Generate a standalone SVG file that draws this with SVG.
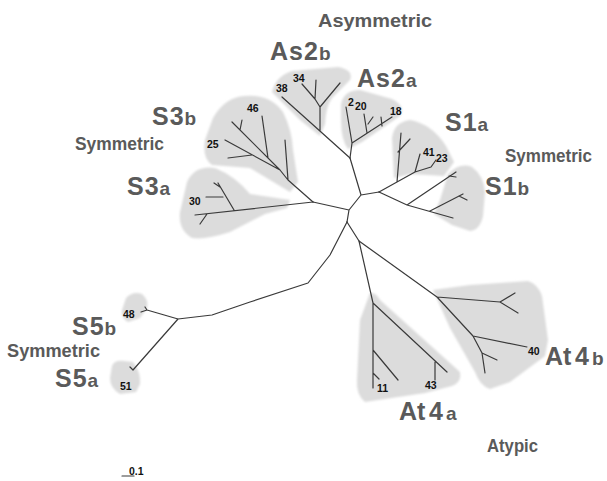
<svg xmlns="http://www.w3.org/2000/svg" width="607" height="481" viewBox="0 0 607 481">
<defs>
<filter id="soft" x="-10%" y="-10%" width="120%" height="120%"><feGaussianBlur stdDeviation="1.2"/></filter>
</defs>
<style>
.hull{fill:#dcdcdc;stroke:none;filter:url(#soft)}
.br{fill:none;stroke:#3a3a3a;stroke-width:1.2;stroke-linecap:round;stroke-linejoin:round}
.big{font-family:"Liberation Sans",Arial,sans-serif;font-weight:bold;fill:#5a5a5a;font-size:25px;letter-spacing:1px}
.tight{letter-spacing:0}
.sub{font-size:19px}
.cat{font-family:"Liberation Sans",Arial,sans-serif;font-weight:bold;fill:#5a5a5a;font-size:19px}
.num{font-family:"Liberation Sans",Arial,sans-serif;font-weight:bold;fill:#111;font-size:10.5px}
</style>
<rect width="607" height="481" fill="#fff"/>

<g id="hulls">
<path id="hull-As2b" class="hull" d="M272,92 Q276,76 292,71 L338,67 Q354,70 350,80 L332,98 Q326,106 325,124 L320,136 L300,120 Z"/>
<path id="hull-As2a" class="hull" d="M341,104 Q344,90 360,90 L392,99 Q406,106 400,116 L362,142 L348,149 Q341,140 341,120 Z"/>
<path id="hull-S3b" class="hull" d="M213,118 Q225,97 245,96 Q270,94 283,112 Q292,130 293,150 L298,182 L290,192 L250,168 L212,165 Q202,158 205,140 Z"/>
<path id="hull-S3a" class="hull" d="M187,182 Q195,165 215,168 Q235,176 250,194 L290,200 L287,208 L265,214 L230,232 Q205,240 192,238 Q178,230 180,212 Z"/>
<path id="hull-S1a" class="hull" d="M392,138 Q394,122 410,120 Q432,124 446,146 L454,162 L444,176 L410,174 L394,178 Z"/>
<path id="hull-S1b" class="hull" d="M448,174 Q460,162 472,167 Q484,176 485,192 L483,216 Q480,230 470,231 L452,225 L434,214 L440,200 Z"/>
<path id="hull-At4b" class="hull" d="M433,290 L470,285 L528,281 Q538,284 542,296 L548,340 L545,356 L510,382 L490,389 Q480,386 475,372 L450,328 Z"/>
<path id="hull-At4a" class="hull" d="M370,293 Q376,292 380,300 L460,372 Q462,382 452,386 L425,393 L365,402 Q356,395 357,380 L360,320 Z"/>
<path id="hull-S5b" class="hull" d="M126,298 Q133,291 142,294 Q149,300 147,308 L140,318 L128,322 Q121,318 122,310 Z"/>
<path id="hull-S5a" class="hull" d="M112,366 Q114,360 124,361 L133,362 Q141,372 140,384 L136,392 L120,394 Q110,388 110,378 Z"/>
</g>

<g id="connectors">
<path class="br" d="M361,195 L350,158 M361,195 L379,192 M361,195 L349,210 L313,202 M349,210 L347,222"/>
<path class="br" d="M350,158 L282,97 M320,131 L320,107 L315,99 L302,84 M315,99 L316,80 M320,107 L340,83"/>
<path class="br" d="M350,158 L352,143 L346,107 M352,143 L392,117 M367,133 L364,114 M368,124 L373,117 M382,126 L381,117"/>
<path class="br" d="M379,192 L415,172 M397,182 L401,133 M398,152 L410,139 M415,172 L420,154 M415,172 L431,167 L436,160"/>
<path class="br" d="M379,192 L407,205 L456,172 M407,205 L453,218 M430,211 L463,194 M459,196 L467,200 M449,176 L456,177"/>
<path class="br" d="M313,202 L288,180 L285,140 M288,180 L280,170 L232,122 M268,158 L262,116 M240,130 L242,120 M280,170 L225,140 M252,155 L228,158"/>
<path class="br" d="M313,202 L195,215 M234,210 L218,183 M223,197 L206,197 M220,187 L214,183 M207,214 L200,224"/>
<path class="br" d="M347,222 L330,255 L308,283 L250,302 L212,315 L178,319 L147,310 L141,312 M147,310 L145,307 M178,319 L133,370 L130,367"/>
<path class="br" d="M347,222 L359,241 L373,303 L373,350 L373,388 M373,350 L398,380 M373,373 L379,379 M373,303 L447,372 M435,362 L435,380"/>
<path class="br" d="M359,241 L437,297 L500,302 L515,293 M500,302 L518,313 M437,297 L473,336 L527,347 M473,336 L482,353 L485,373 M482,353 L497,360"/>
<path class="br" d="M122,476 L134,476"/>
</g>

<g id="labels">
<text class="cat" x="318" y="27" textLength="114" lengthAdjust="spacingAndGlyphs">Asymmetric</text>
<text class="big" x="270" y="60">As2<tspan class="sub">b</tspan></text>
<text class="big" x="357" y="87">As2<tspan class="sub">a</tspan></text>
<text class="big" x="152" y="125">S3<tspan class="sub">b</tspan></text>
<text class="cat" x="75" y="150" textLength="89" lengthAdjust="spacingAndGlyphs">Symmetric</text>
<text class="big" x="127" y="195">S3<tspan class="sub">a</tspan></text>
<text class="big" x="445" y="131">S1<tspan class="sub">a</tspan></text>
<text class="cat" x="505" y="162" textLength="87" lengthAdjust="spacingAndGlyphs">Symmetric</text>
<text class="big" x="485" y="195">S1<tspan class="sub">b</tspan></text>
<text class="big" x="72" y="335">S5<tspan class="sub">b</tspan></text>
<text class="cat" x="7" y="357" textLength="93" lengthAdjust="spacingAndGlyphs">Symmetric</text>
<text class="big" x="55" y="387">S5<tspan class="sub">a</tspan></text>
<text class="big tight" x="545" y="365">At<tspan x="575">4</tspan><tspan class="sub" x="592">b</tspan></text>
<text class="big tight" x="399" y="420">At<tspan x="429">4</tspan><tspan class="sub" x="446">a</tspan></text>
<text class="cat" x="487" y="452" textLength="51" lengthAdjust="spacingAndGlyphs">Atypic</text>
</g>

<g id="leaf-numbers">
<text class="num" x="293" y="82">34</text>
<text class="num" x="276" y="92">38</text>
<text class="num" x="348" y="106">2</text>
<text class="num" x="355" y="110">20</text>
<text class="num" x="390" y="115">18</text>
<text class="num" x="423" y="156">41</text>
<text class="num" x="436" y="162">23</text>
<text class="num" x="247" y="112">46</text>
<text class="num" x="207" y="148">25</text>
<text class="num" x="189" y="205">30</text>
<text class="num" x="123" y="318">48</text>
<text class="num" x="120" y="390">51</text>
<text class="num" x="377" y="392">11</text>
<text class="num" x="425" y="389">43</text>
<text class="num" x="528" y="355">40</text>
<text class="num" x="129" y="475">0.1</text>
</g>
</svg>
